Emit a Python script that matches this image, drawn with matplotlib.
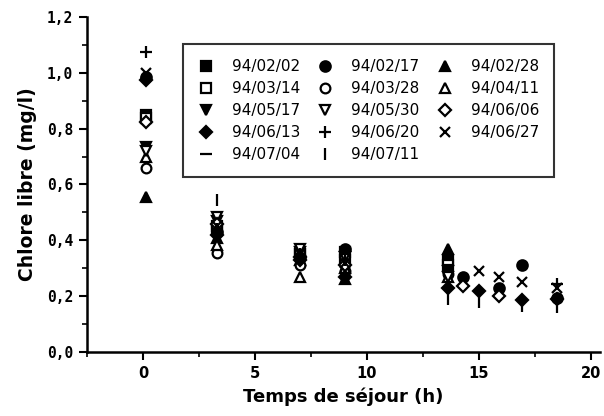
import matplotlib as mpl

mpl.use('Agg')
import matplotlib.pyplot as plt
from matplotlib.ticker import MultipleLocator, FuncFormatter

#### Data ####
dates = ['94/02/02', '94/02/17', '94/02/28', '94/03/14', '94/03/28', '94/04/11',
         '94/05/17', '94/05/30', '94/06/06', '94/06/13', '94/06/20', '94/06/27',
         '94/07/04', '94/07/11']

t_0202 = [0.15, 3.3, 7.0, 9.0, 13.6]
c_0202 = [0.85, 0.44, 0.35, 0.36, 0.33]
t_0217 = [0.15, 3.3, 7.0, 9.0, 14.3, 15.9, 16.9, 18.5]
c_0217 = [0.985, 0.43, 0.34, 0.37, 0.27, 0.23, 0.31, 0.195]
t_0228 = [0.15, 3.3, 7.0, 9.0, 13.6]
c_0228 = [0.555, 0.41, 0.33, 0.26, 0.37]
t_0314 = [0.15, 3.3, 7.0, 9.0, 13.6]
c_0314 = [0.84, 0.45, 0.35, 0.33, 0.31]
t_0328 = [0.15, 3.3, 7.0, 9.0, 13.6]
c_0328 = [0.66, 0.355, 0.31, 0.29, 0.28]
t_0411 = [0.15, 3.3, 7.0, 9.0, 13.6]
c_0411 = [0.70, 0.385, 0.27, 0.30, 0.27]
t_0517 = [0.15, 3.3, 7.0, 9.0, 13.6]
c_0517 = [0.735, 0.47, 0.36, 0.34, 0.29]
t_0530 = [0.15, 3.3, 7.0, 9.0, 13.6]
c_0530 = [0.72, 0.485, 0.37, 0.34, 0.27]
t_0606 = [0.15, 3.3, 7.0, 9.0, 14.3, 15.9]
c_0606 = [0.825, 0.46, 0.34, 0.31, 0.235, 0.20]
t_0613 = [0.15, 3.3, 7.0, 9.0, 13.6, 15.0, 16.9, 18.5]
c_0613 = [0.975, 0.42, 0.33, 0.27, 0.23, 0.22, 0.185, 0.19]
t_0620 = [0.15, 3.3, 7.0, 9.0, 18.5]
c_0620 = [1.075, 0.44, 0.35, 0.33, 0.245]
t_0627 = [0.15, 3.3, 7.0, 9.0, 15.0, 15.9, 16.9, 18.5]
c_0627 = [1.0, 0.45, 0.36, 0.32, 0.29, 0.27, 0.25, 0.23]
t_0704 = [3.3, 7.0, 9.0, 13.6]
c_0704 = [0.44, 0.35, 0.35, 0.31]
t_0711 = [3.3, 13.6, 15.0, 16.9, 18.5]
c_0711 = [0.545, 0.19, 0.18, 0.165, 0.16]

series = [(t_0202, c_0202), (t_0217, c_0217), (t_0228, c_0228), (t_0314, c_0314),
          (t_0328, c_0328), (t_0411, c_0411), (t_0517, c_0517), (t_0530, c_0530),
          (t_0606, c_0606), (t_0613, c_0613), (t_0620, c_0620), (t_0627, c_0627),
          (t_0704, c_0704), (t_0711, c_0711)]

# marker, filled, size
styles = [('s', True, 7), ('o', True, 7.5), ('^', True, 7.5), ('s', False, 6.5),
          ('o', False, 7), ('^', False, 7), ('v', True, 7.5), ('v', False, 7),
          ('D', False, 6), ('D', True, 6.5), ('+', True, 8), ('x', True, 7),
          ('_', True, 8), ('|', True, 8)]
########################

fig = plt.figure(figsize=(6.04, 4.16), dpi=100)
ax = fig.add_axes([87 / 604, 64 / 416, 513 / 604, 335 / 416])

handles = []
for (t, c), (m, filled, ms), lab in zip(series, styles, dates):
    face = 'black' if filled else 'white'
    h, = ax.plot(t, c, linestyle='none', marker=m, ms=ms, mfc=face,
                 mec='black', mew=1.6, color='black', label=lab, zorder=3)
    handles.append(h)

ax.set_xlim(-2.5, 20.4)
ax.set_ylim(0, 1.2)
ax.xaxis.set_major_locator(MultipleLocator(5))
ax.xaxis.set_minor_locator(MultipleLocator(2.5))
ax.yaxis.set_major_locator(MultipleLocator(0.2))
ax.yaxis.set_minor_locator(MultipleLocator(0.1))
ax.yaxis.set_major_formatter(FuncFormatter(lambda v, p: ('%.1f' % v).replace('.', ',')))

for side in ['top', 'right']:
    ax.spines[side].set_visible(False)
for side in ['left', 'bottom']:
    ax.spines[side].set_linewidth(1.8)

ax.tick_params(which='major', direction='out', length=6, width=1.5, pad=4)
ax.tick_params(which='minor', direction='out', length=3.5, width=1.2)
for lbl in ax.get_yticklabels():
    lbl.set_fontfamily('DejaVu Sans Mono')
    lbl.set_fontweight('bold')
    lbl.set_fontsize(10.5)
for lbl in ax.get_xticklabels():
    lbl.set_fontfamily('DejaVu Sans')
    lbl.set_fontweight('bold')
    lbl.set_fontsize(10.5)

ax.set_xlabel('Temps de séjour (h)', fontsize=13, fontweight='bold', labelpad=5)
ax.set_ylabel('Chlore libre (mg/l)', fontsize=13.5, fontweight='bold', labelpad=7)

# legend is filled column by column, so reorder to read row by row
order = [0, 3, 6, 9, 12, 1, 4, 7, 10, 13, 2, 5, 8, 11]
leg = ax.legend(handles=[handles[i] for i in order], ncol=3, loc='upper left',
                bbox_to_anchor=(0.187, 0.919), frameon=True, fancybox=False,
                fontsize=11, handlelength=1.0, handletextpad=1.2,
                columnspacing=1.15, labelspacing=0.45, borderpad=1.0,
                borderaxespad=0)
leg.get_frame().set_edgecolor('black')
leg.get_frame().set_linewidth(1.5)

plt.savefig('out.png', dpi=100)
